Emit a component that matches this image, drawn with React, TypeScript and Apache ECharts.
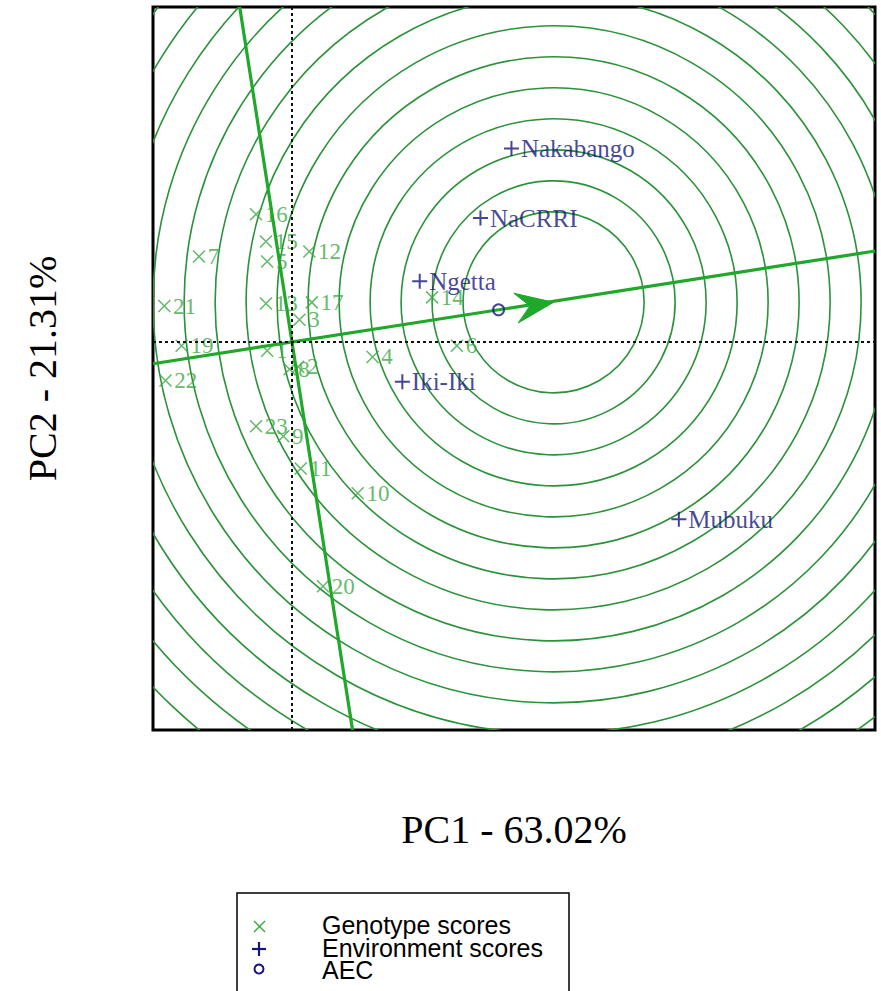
import React, { useEffect, useRef } from "react";
import * as echarts from "echarts";

// Genotype scores on the first two principal components
const genotypeIds = ["1", "2", "3", "4", "5", "6", "7", "8", "9", "10", "11", "12", "13", "14", "15", "16", "17", "19", "20", "21", "22", "23"];
const genotypePC1 = [-0.2, 0.05, 0.06, 0.65, -0.2, 1.33, -0.75, -0.02, -0.07, 0.53, 0.07, 0.14, -0.21, 1.13, -0.21, -0.29, 0.16, -0.89, 0.25, -1.03, -1.02, -0.29];
const genotypePC2 = [-0.07, -0.2, 0.18, -0.12, 0.65, -0.03, 0.69, -0.22, -0.76, -1.22, -1.02, 0.73, 0.31, 0.36, 0.81, 1.03, 0.32, -0.03, -1.97, 0.29, -0.31, -0.68];

// Environment scores
const environmentNames = ["Nakabango", "NaCRRI", "Ngetta", "Iki-Iki", "Mubuku"];
const environmentPC1 = [1.77, 1.52, 1.03, 0.89, 3.12];
const environmentPC2 = [1.56, 1.0, 0.49, -0.32, -1.43];

// Ideal genotype on the average-environment axis, centre of the rings
const idealPoint = [2.11, 0.32];
const ringFirstRadius = 0.73;
const ringStep = 0.25;
const ringCount = 17;

const xTitle = "PC1 - 63.02%";
const yTitle = "PC2 - 21.31%";
const legendLabels = ["Genotype scores", "Environment scores", "AEC"];

const X_MIN = -1.121;
const X_MAX = 4.702;
const Y_MIN = -3.129;
const Y_MAX = 2.702;

const GENO_GREEN = "#3aa842";
const AXIS_GREEN = "#1fa82a";
const RING_GREEN = "#2a9238";
const ENV_BLUE = "#15177a";
const SERIF = '"Liberation Serif", "Times New Roman", serif';
const SANS = '"Liberation Sans", Arial, sans-serif';

const CROSS = "path://M0,0L10,10M10,0L0,10";
const PLUS = "path://M5,0L5,10M0,5L10,5";

export default function App() {
  const ref = useRef<HTMLDivElement>(null);

  useEffect(() => {
    if (!ref.current) return;
    const chart = echarts.init(ref.current, undefined, { renderer: "svg" });

    // average environment coordinate
    const aecX = environmentPC1.reduce((a, b) => a + b, 0) / environmentPC1.length;
    const aecY = environmentPC2.reduce((a, b) => a + b, 0) / environmentPC2.length;
    const slope = aecY / aecX;

    const rings: number[][] = [];
    for (let k = 0; k < ringCount; k++) {
      rings.push([idealPoint[0], idealPoint[1], ringFirstRadius + k * ringStep]);
    }

    const genotypes = genotypeIds.map((id, i) => ({ name: id, value: [genotypePC1[i], genotypePC2[i]] }));
    const environments = environmentNames.map((n, i) => ({ name: n, value: [environmentPC1[i], environmentPC2[i]] }));

    const option: any = {
      animation: false,
      backgroundColor: "#ffffff",
      grid: {
        left: 153,
        top: 7,
        width: 722,
        height: 723,
        show: true,
        borderColor: "#000",
        borderWidth: 3,
        backgroundColor: "transparent",
      },
      xAxis: {
        type: "value",
        min: X_MIN,
        max: X_MAX,
        name: xTitle,
        nameLocation: "middle",
        nameGap: 79,
        nameTextStyle: { fontFamily: SERIF, fontSize: 40, color: "#000" },
        axisLine: { show: false },
        axisTick: { show: false },
        axisLabel: { show: false },
        splitLine: { show: false },
      },
      yAxis: {
        type: "value",
        min: Y_MIN,
        max: Y_MAX,
        name: yTitle,
        nameLocation: "middle",
        nameRotate: 90,
        nameGap: 91,
        nameTextStyle: { fontFamily: SERIF, fontSize: 40, color: "#000" },
        axisLine: { show: false },
        axisTick: { show: false },
        axisLabel: { show: false },
        splitLine: { show: false },
      },
      series: [
        {
          type: "custom",
          name: "rings",
          clip: true,
          silent: true,
          z: 1,
          encode: { x: 0, y: 1 },
          data: rings,
          renderItem: (_params: any, api: any) => {
            const c = api.coord([api.value(0), api.value(1)]);
            const r = api.size([api.value(2), 0])[0];
            return {
              type: "circle",
              shape: { cx: c[0], cy: c[1], r },
              style: { fill: "none", stroke: RING_GREEN, lineWidth: 1.6 },
            };
          },
        },
        {
          type: "scatter",
          name: "Genotype scores",
          z: 3,
          symbol: CROSS,
          symbolSize: 12,
          itemStyle: { color: "rgba(0,0,0,0)", borderColor: GENO_GREEN, borderWidth: 1.5 },
          label: {
            show: true,
            position: "right",
            distance: 2,
            formatter: "{b}",
            fontFamily: SERIF,
            fontSize: 23,
            color: GENO_GREEN,
          },
          data: genotypes,
        },
        {
          type: "line",
          name: "AEA",
          z: 4,
          silent: true,
          symbol: "none",
          lineStyle: { color: AXIS_GREEN, width: 3.2 },
          data: [
            [X_MIN, slope * X_MIN],
            [X_MAX, slope * X_MAX],
          ],
          markLine: {
            silent: true,
            symbol: ["none", "none"],
            label: { show: false },
            lineStyle: { color: "#111", type: [3, 3], width: 2 },
            data: [{ xAxis: 0 }, { yAxis: 0 }],
          },
        },
        {
          type: "line",
          name: "ATC",
          z: 4,
          silent: true,
          symbol: "none",
          lineStyle: { color: AXIS_GREEN, width: 3.2 },
          data: [
            [-slope * Y_MIN, Y_MIN],
            [-slope * Y_MAX, Y_MAX],
          ],
        },
        {
          type: "custom",
          name: "arrow",
          silent: true,
          z: 4,
          encode: { x: 0, y: 1 },
          data: [[idealPoint[0], idealPoint[1]]],
          renderItem: (_params: any, api: any) => {
            const tip = api.coord([api.value(0), api.value(1)]);
            const o = api.coord([0, 0]);
            const dx = tip[0] - o[0];
            const dy = tip[1] - o[1];
            const len = Math.sqrt(dx * dx + dy * dy);
            const ux = dx / len;
            const uy = dy / len;
            const nx = -uy;
            const ny = ux;
            const L = 38;
            const W = 15;
            const N = 24;
            return {
              type: "polygon",
              shape: {
                points: [
                  [tip[0], tip[1]],
                  [tip[0] - L * ux + W * nx, tip[1] - L * uy + W * ny],
                  [tip[0] - N * ux, tip[1] - N * uy],
                  [tip[0] - L * ux - W * nx, tip[1] - L * uy - W * ny],
                ],
              },
              style: { fill: AXIS_GREEN, stroke: AXIS_GREEN, lineWidth: 1 },
            };
          },
        },
        {
          type: "scatter",
          name: "Environment scores",
          z: 5,
          symbol: PLUS,
          symbolSize: 15,
          itemStyle: { color: "rgba(0,0,0,0)", borderColor: ENV_BLUE, borderWidth: 2 },
          label: {
            show: true,
            position: "right",
            distance: 1,
            formatter: "{b}",
            fontFamily: SERIF,
            fontSize: 25,
            color: ENV_BLUE,
          },
          data: environments,
        },
        {
          type: "scatter",
          name: "AEC",
          z: 5,
          symbol: "circle",
          symbolSize: 11,
          itemStyle: { color: "rgba(0,0,0,0)", borderColor: ENV_BLUE, borderWidth: 2 },
          data: [[aecX, aecY]],
        },
      ],
      graphic: [
        {
          type: "rect",
          z: 10,
          shape: { x: 237, y: 893, width: 332, height: 130 },
          style: { fill: "#fff", stroke: "#000", lineWidth: 1.5 },
        },
        {
          type: "line",
          z: 11,
          shape: { x1: 254, y1: 921, x2: 265, y2: 932 },
          style: { stroke: GENO_GREEN, lineWidth: 1.5 },
        },
        {
          type: "line",
          z: 11,
          shape: { x1: 265, y1: 921, x2: 254, y2: 932 },
          style: { stroke: GENO_GREEN, lineWidth: 1.5 },
        },
        {
          type: "line",
          z: 11,
          shape: { x1: 259, y1: 942, x2: 259, y2: 956 },
          style: { stroke: ENV_BLUE, lineWidth: 2.2 },
        },
        {
          type: "line",
          z: 11,
          shape: { x1: 252, y1: 949, x2: 266, y2: 949 },
          style: { stroke: ENV_BLUE, lineWidth: 2.2 },
        },
        {
          type: "circle",
          z: 11,
          shape: { cx: 259, cy: 969, r: 4.5 },
          style: { fill: "none", stroke: ENV_BLUE, lineWidth: 2 },
        },
        ...legendLabels.map((t, i) => ({
          type: "text",
          z: 11,
          x: 322,
          y: 925 + i * 22.5,
          style: { text: t, font: `25px ${SANS}`, fill: "#000", verticalAlign: "middle" },
        })),
      ],
    };

    chart.setOption(option);
    return () => chart.dispose();
  }, []);

  return (
    <div
      ref={ref}
      style={{ position: "fixed", left: 0, top: 0, width: 881, height: 991, background: "#fff" }}
    />
  );
}
